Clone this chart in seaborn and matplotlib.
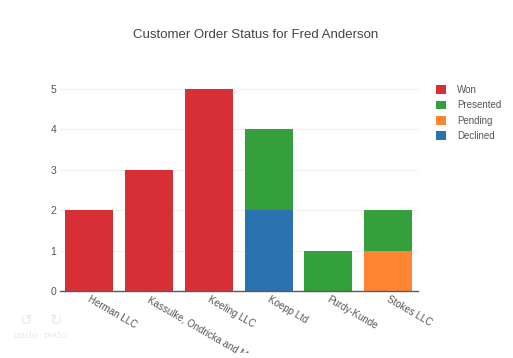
import matplotlib
matplotlib.use("Agg")
import matplotlib.pyplot as plt
import matplotlib.transforms as mtrans
import numpy as np
import pandas as pd
import seaborn as sns

managers = ["Herman LLC", "Kassulke, Ondricka and Metz", "Keeling LLC", "Koepp Ltd", "Purdy-Kunde", "Stokes LLC"]
declined = [0, 0, 0, 2, 0, 0]
pending = [0, 0, 0, 0, 0, 1]
presented = [0, 0, 0, 2, 1, 1]
won = [2, 3, 5, 0, 0, 0]
y_ticks = [0, 1, 2, 3, 4, 5]

# drawn bottom to top, legend reads the other way
series = [
    ("Declined", declined, "#2b72b0"),
    ("Pending", pending, "#ff8533"),
    ("Presented", presented, "#34a03c"),
    ("Won", won, "#d62f35"),
]

sns.set_style("white")
plt.rcParams["font.family"] = ["Liberation Sans", "DejaVu Sans"]

W, H = 513, 358
fig = plt.figure(figsize=(W / 100, H / 100), dpi=100)
ax = fig.add_axes([59.5 / W, 1 - 291 / H, 358.5 / W, 212.5 / H])
ax.set_axisbelow(True)

bottom = np.zeros(len(managers))
for name, values, color in series:
    df = pd.DataFrame({"manager": managers, "count": values})
    sns.barplot(
        data=df,
        x="manager",
        y="count",
        color=color,
        saturation=1,
        width=0.8,
        bottom=bottom,
        label=name,
        ax=ax,
        legend=False,
        linewidth=0,
    )
    bottom = bottom + np.array(values)

ax.set_xlim(-0.5, 5.5)
ax.set_ylim(0, 5.25)
ax.set_xlabel("")
ax.set_ylabel("")
ax.set_yticks(y_ticks)
ax.yaxis.grid(True, color="#f2f2f2", linewidth=1)
ax.xaxis.grid(False)
for side in ["top", "right", "left"]:
    ax.spines[side].set_visible(False)
ax.spines["bottom"].set_color("#555b66")
ax.spines["bottom"].set_linewidth(1)
ax.tick_params(axis="y", length=0, pad=2.5, labelsize=7.5, labelcolor="#555555")
ax.tick_params(axis="x", length=0)

# rotated labels, cut off at the bottom like the reference
ax.set_xticks(range(len(managers)))
ax.set_xticklabels([])
clip = mtrans.Bbox([[0, (H - 353)], [W, H]])
for i, name in enumerate(managers):
    t = ax.annotate(
        name,
        xy=(i, 0),
        xycoords=ax.get_xaxis_transform(),
        xytext=(1.5, -2.5),
        textcoords="offset points",
        rotation=-30,
        rotation_mode="anchor",
        ha="left",
        va="top",
        fontsize=7,
        color="#555555",
        annotation_clip=False,
    )
    t.set_clip_on(True)
    t.set_clip_box(clip)

handles, labels = ax.get_legend_handles_labels()
seen = {}
for h, l in zip(handles, labels):
    seen[l] = h
order = ["Won", "Presented", "Pending", "Declined"]
ax.legend(
    [seen[l] for l in order],
    order,
    loc="upper left",
    bbox_to_anchor=(436 / W, 1 - 85 / H),
    bbox_transform=fig.transFigure,
    frameon=False,
    fontsize=7,
    labelcolor="#555555",
    handlelength=1,
    handleheight=1,
    handletextpad=1.15,
    labelspacing=0.55,
    borderpad=0,
    borderaxespad=0,
)

fig.text(256 / W, 1 - 34.5 / H, "Customer Order Status for Fred Anderson", ha="center", va="center",
         fontsize=9.5, color="#444444")

# faded toolbar text
faded = "#e4e8f4"
fig.text(26 / W, 1 - 320 / H, "\u21ba", ha="center", va="center", fontsize=11, color=faded, family="DejaVu Sans")
fig.text(56 / W, 1 - 320 / H, "\u21bb", ha="center", va="center", fontsize=11, color=faded, family="DejaVu Sans")
fig.text(26 / W, 1 - 336 / H, "undo", ha="center", va="center", fontsize=7.5, color=faded, family="DejaVu Serif")
fig.text(56 / W, 1 - 336 / H, "redo", ha="center", va="center", fontsize=7.5, color=faded, family="DejaVu Serif")

fig.savefig("out.png", dpi=100)
